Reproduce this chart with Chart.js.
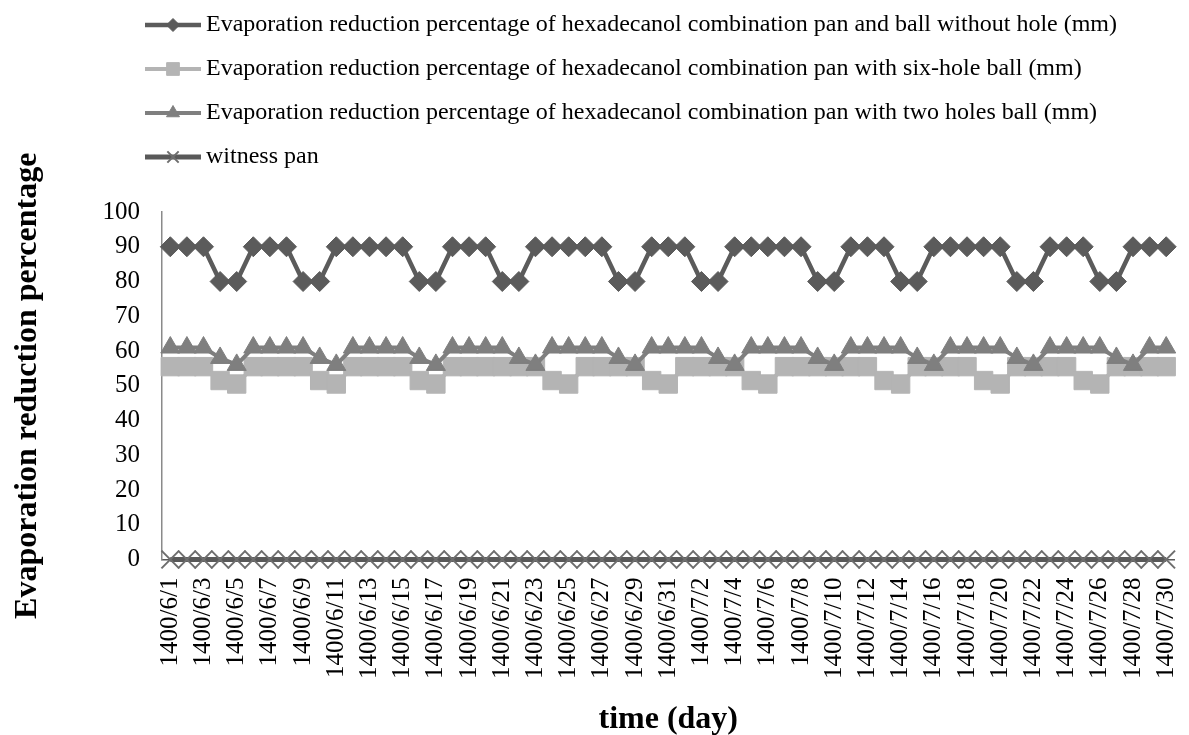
<!DOCTYPE html>
<html>
<head>
<meta charset="utf-8">
<title>Evaporation reduction percentage</title>
<script src="https://cdn.jsdelivr.net/npm/chart.js@4/dist/chart.umd.min.js"></script>
<style>
  body { margin: 0; background: #fff; }
  canvas { display: block; }
</style>
</head>
<body>
<canvas id="chart" width="1189" height="735"></canvas>
<script>
'use strict';

// x categories (Persian calendar days, month 6 has 31 days)
const dayLabels = [
  '1400/6/1', '1400/6/2', '1400/6/3', '1400/6/4', '1400/6/5', '1400/6/6', '1400/6/7', '1400/6/8',
  '1400/6/9', '1400/6/10', '1400/6/11', '1400/6/12', '1400/6/13', '1400/6/14', '1400/6/15', '1400/6/16',
  '1400/6/17', '1400/6/18', '1400/6/19', '1400/6/20', '1400/6/21', '1400/6/22', '1400/6/23', '1400/6/24',
  '1400/6/25', '1400/6/26', '1400/6/27', '1400/6/28', '1400/6/29', '1400/6/30', '1400/6/31',
  '1400/7/1', '1400/7/2', '1400/7/3', '1400/7/4', '1400/7/5', '1400/7/6', '1400/7/7', '1400/7/8',
  '1400/7/9', '1400/7/10', '1400/7/11', '1400/7/12', '1400/7/13', '1400/7/14', '1400/7/15', '1400/7/16',
  '1400/7/17', '1400/7/18', '1400/7/19', '1400/7/20', '1400/7/21', '1400/7/22', '1400/7/23', '1400/7/24',
  '1400/7/25', '1400/7/26', '1400/7/27', '1400/7/28', '1400/7/29', '1400/7/30'
];

const seriesNames = [
  'Evaporation reduction percentage of hexadecanol combination pan and ball without hole (mm)',
  'Evaporation reduction percentage of hexadecanol combination pan with six-hole ball (mm)',
  'Evaporation reduction percentage of hexadecanol combination pan with two holes ball (mm)',
  'witness pan'
];

const noHoleBall = [
  90, 90, 90, 80, 80, 90, 90, 90, 80, 80,
  90, 90, 90, 90, 90, 80, 80, 90, 90, 90,
  80, 80, 90, 90, 90, 90, 90, 80, 80, 90,
  90, 90, 80, 80, 90, 90, 90, 90, 90, 80,
  80, 90, 90, 90, 80, 80, 90, 90, 90, 90,
  90, 80, 80, 90, 90, 90, 80, 80, 90, 90,
  90
];

const sixHoleBall = [
  55.5, 55.5, 55.5, 51.5, 50.5, 55.5, 55.5, 55.5, 55.5, 51.5,
  50.5, 55.5, 55.5, 55.5, 55.5, 51.5, 50.5, 55.5, 55.5, 55.5,
  55.5, 55.5, 55.5, 51.5, 50.5, 55.5, 55.5, 55.5, 55.5, 51.5,
  50.5, 55.5, 55.5, 55.5, 55.5, 51.5, 50.5, 55.5, 55.5, 55.5,
  55.5, 55.5, 55.5, 51.5, 50.5, 55.5, 55.5, 55.5, 55.5, 51.5,
  50.5, 55.5, 55.5, 55.5, 55.5, 51.5, 50.5, 55.5, 55.5, 55.5,
  55.5
];

const twoHoleBall = [
  61, 61, 61, 58, 56, 61, 61, 61, 61, 58,
  56, 61, 61, 61, 61, 58, 56, 61, 61, 61,
  61, 58, 56, 61, 61, 61, 61, 58, 56, 61,
  61, 61, 61, 58, 56, 61, 61, 61, 61, 58,
  56, 61, 61, 61, 61, 58, 56, 61, 61, 61,
  61, 58, 56, 61, 61, 61, 61, 58, 56, 61,
  61
];

const witnessPan = [
  0, 0, 0, 0, 0, 0, 0, 0, 0, 0,
  0, 0, 0, 0, 0, 0, 0, 0, 0, 0,
  0, 0, 0, 0, 0, 0, 0, 0, 0, 0,
  0, 0, 0, 0, 0, 0, 0, 0, 0, 0,
  0, 0, 0, 0, 0, 0, 0, 0, 0, 0,
  0, 0, 0, 0, 0, 0, 0, 0, 0, 0,
  0
];

const yTicks = [0, 10, 20, 30, 40, 50, 60, 70, 80, 90, 100];

const serif = '"Liberation Serif", "Times New Roman", serif';

// stacked legend rows above the plot, like the Excel one
const legendRows = {
  id: 'legendRows',
  afterDraw(chart) {
    const ctx = chart.ctx;
    const markerSize = [6.5, 9, 7.5, 8];
    ctx.save();
    chart.data.datasets.forEach((ds, i) => {
      const y = 25 + i * 44;
      ctx.strokeStyle = ds.borderColor;
      ctx.lineWidth = ds.borderWidth;
      ctx.beginPath();
      ctx.moveTo(145, y);
      ctx.lineTo(201, y);
      ctx.stroke();

      ctx.fillStyle = ds.pointBackgroundColor;
      ctx.strokeStyle = ds.pointBorderColor;
      ctx.lineWidth = ds.pointBorderWidth;
      Chart.helpers.drawPoint(ctx, {
        pointStyle: ds.pointStyle,
        radius: markerSize[i],
        rotation: 0,
        borderWidth: ds.pointBorderWidth
      }, 173, y);

      ctx.fillStyle = '#000';
      ctx.font = '24px ' + serif;
      ctx.textAlign = 'left';
      ctx.textBaseline = 'middle';
      ctx.fillText(ds.label, 206, y);
    });
    ctx.restore();
  }
};

let ctx = document.getElementById('chart').getContext('2d');
new Chart(ctx, {
  type: 'line',
  data: {
    labels: dayLabels,
    datasets: [
      {
        label: seriesNames[0],
        data: noHoleBall,
        borderColor: '#5b5b5b',
        borderWidth: 4.5,
        pointStyle: 'rectRot',
        pointRadius: 10,
        pointBackgroundColor: '#5b5b5b',
        pointBorderColor: '#5b5b5b',
        pointBorderWidth: 1,
        order: 4
      },
      {
        label: seriesNames[1],
        data: sixHoleBall,
        borderColor: '#b4b4b4',
        borderWidth: 4,
        pointStyle: 'rect',
        pointRadius: 13,
        pointBackgroundColor: '#b4b4b4',
        pointBorderColor: '#b4b4b4',
        pointBorderWidth: 1,
        order: 3
      },
      {
        label: seriesNames[2],
        data: twoHoleBall,
        borderColor: '#7f7f7f',
        borderWidth: 4,
        pointStyle: 'triangle',
        pointRadius: 11,
        pointBackgroundColor: '#7f7f7f',
        pointBorderColor: '#7f7f7f',
        pointBorderWidth: 1,
        order: 2
      },
      {
        label: seriesNames[3],
        data: witnessPan,
        borderColor: '#595959',
        borderWidth: 5,
        pointStyle: 'crossRot',
        pointRadius: 12.5,
        pointBackgroundColor: 'rgba(0,0,0,0)',
        pointBorderColor: '#6e6e6e',
        pointBorderWidth: 2,
        order: 1
      }
    ]
  },
  options: {
    responsive: false,
    animation: false,
    devicePixelRatio: 1,
    layout: {
      padding: { top: 212, right: 3.5, bottom: 0, left: 0 }
    },
    elements: {
      line: { tension: 0 }
    },
    datasets: {
      line: { clip: false }
    },
    plugins: {
      legend: { display: false },
      tooltip: { enabled: false }
    },
    scales: {
      x: {
        type: 'category',
        offset: true,
        grid: { display: false, drawTicks: false },
        border: { display: true, color: '#595959', width: 1.5 },
        ticks: {
          autoSkip: false,
          maxRotation: 90,
          minRotation: 90,
          padding: 18,
          color: '#000',
          font: { family: serif, size: 25 },
          callback: function (value, index) {
            return index % 2 === 0 ? this.getLabelForValue(value) : '';
          }
        },
        title: {
          display: true,
          text: 'time (day)',
          color: '#000',
          font: { family: serif, size: 32, weight: 'bold' },
          padding: { top: 0, bottom: -4 }
        },
        afterFit(scale) {
          scale.height = 175.5;
          // rotated labels would otherwise steal room at the right edge
          scale.paddingLeft = 0;
          scale.paddingRight = 0;
        }
      },
      y: {
        min: 0,
        max: 100,
        grid: { display: false, drawTicks: false },
        border: { display: true, color: '#8a8a8a', width: 1.5 },
        afterBuildTicks(scale) {
          scale.ticks = yTicks.map(v => ({ value: v }));
        },
        ticks: {
          padding: 22,
          color: '#000',
          font: { family: serif, size: 25 }
        },
        title: {
          display: true,
          text: 'Evaporation reduction percentage',
          color: '#000',
          font: { family: serif, size: 32, weight: 'bold' },
          padding: { top: 9, bottom: 0 }
        },
        afterFit(scale) {
          scale.width = 162;
          scale.paddingTop = 0;
          scale.paddingBottom = 0;
        }
      }
    }
  },
  plugins: [legendRows]
});
</script>
</body>
</html>
